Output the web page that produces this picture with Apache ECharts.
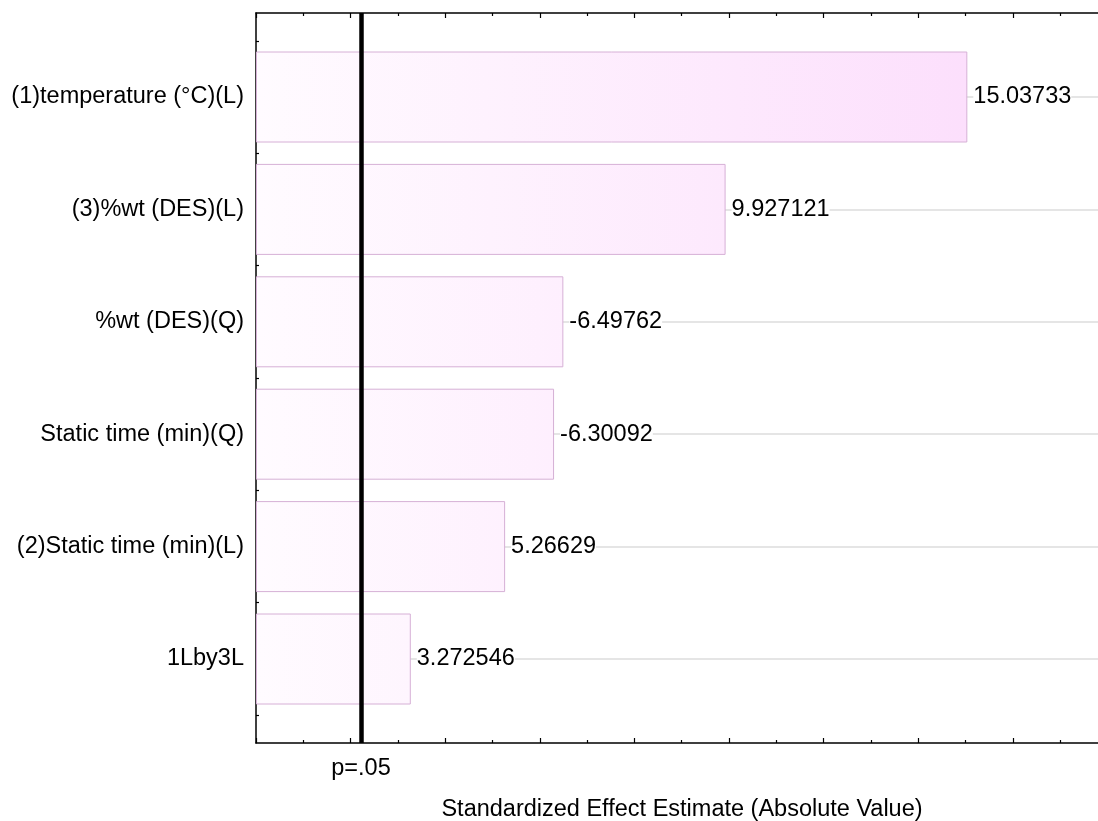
<!DOCTYPE html>
<html><head><meta charset="utf-8">
<script src="https://cdn.jsdelivr.net/npm/echarts@6/dist/echarts.min.js"></script>
<style>html,body{margin:0;padding:0;background:#fff}#c{width:1098px;height:821px}</style>
</head><body><div id="c"></div>
<script>
const categories = ["(1)temperature (°C)(L)", "(3)%wt (DES)(L)", "%wt (DES)(Q)", "Static time (min)(Q)", "(2)Static time (min)(L)", "1Lby3L"];
const effects = [15.03733, 9.927121, -6.49762, -6.30092, 5.26629, 3.272546];
const effectLabels = ["15.03733", "9.927121", "-6.49762", "-6.30092", "5.26629", "3.272546"];
const pCritical = 2.22;
const pLabel = "p=.05";
const xMin = 0, xMax = 17.8, xMajorStep = 2, xMinorStep = 1;
const yFrameMin = 0.25, yFrameMax = 6.75, yMinorStep = 0.25, yMajorStep = 1;
const axisName = "Standardized Effect Estimate (Absolute Value)";

const FONT = 'Arial, "Liberation Sans", sans-serif';
const FS = 23.5;

function steps(a, b, s, skipEvery) {
  const out = [];
  for (let i = 0; a + i * s <= b + 1e-9; i++) {
    if (skipEvery && i % skipEvery === 0) continue;
    out.push(+(a + i * s).toFixed(6));
  }
  return out;
}
const xMajorTicks = steps(xMin, xMax, xMajorStep);
const xMinorTicks = steps(xMin, xMax, xMinorStep, 2);
const yMinorTicks = steps(0, yFrameMax, yMinorStep, 4).filter(v => v > yFrameMin && v < yFrameMax);
const yMajorTicks = steps(1, yFrameMax, yMajorStep);

function mix(a, b, t) {
  const pa = [1,3,5].map(i => parseInt(a.slice(i, i + 2), 16));
  const pb = [1,3,5].map(i => parseInt(b.slice(i, i + 2), 16));
  return 'rgb(' + pa.map((v, i) => Math.round(v + (pb[i] - v) * t)).join(',') + ')';
}
const cStart = '#fffbff', cEnd = '#fcdafc';

const chart = echarts.init(document.getElementById('c'), null, {renderer: 'canvas'});

const barData = effects.map(v => {
  const t = Math.abs(v) / xMax;
  return {
    value: Math.abs(v),
    itemStyle: {
      color: new echarts.graphic.LinearGradient(0, 0, 1, 0, [
        {offset: 0, color: cStart},
        {offset: 1, color: mix(cStart, cEnd, t)}
      ])
    }
  };
});

function xAx(pos, major, extra) {
  return Object.assign({
    type: 'value', min: xMin, max: xMax, gridIndex: 0, position: pos,
    axisLine: {show: major, onZero: false, lineStyle: {color: '#000', width: 1.5}},
    axisTick: {show: true, inside: true, length: major ? 5 : 3,
               customValues: major ? xMajorTicks : xMinorTicks,
               lineStyle: {color: '#000', width: 1.2}},
    axisLabel: {show: false},
    splitLine: {show: false}
  }, extra || {});
}
function yAx(major) {
  return {
    type: 'value', gridIndex: 0, min: yFrameMin, max: yFrameMax, position: 'left',
    axisLine: {show: !major, onZero: false, lineStyle: {color: '#000', width: 1.5}},
    axisTick: {show: true, inside: true, length: major ? 5 : 3,
               customValues: major ? yMajorTicks : yMinorTicks,
               lineStyle: {color: '#000', width: 1.2}},
    axisLabel: {show: false},
    splitLine: {show: false}
  };
}

chart.setOption({
  animation: false,
  backgroundColor: '#fff',
  textStyle: {fontFamily: FONT},
  grid: [
    {left: 256, right: 0, top: 13, bottom: 78, containLabel: false, outerBoundsMode: 'none'},
    {left: 256, right: 0, top: 97, bottom: 162, containLabel: false, outerBoundsMode: 'none'}
  ],
  xAxis: [
    xAx('bottom', true, {
      name: axisName, nameLocation: 'middle', nameGap: 55,
      nameTextStyle: {fontSize: FS, color: '#000', fontFamily: FONT, padding: [0, 0, 0, 10]}
    }),
    xAx('top', true),
    xAx('bottom', false),
    xAx('top', false),
    {type: 'value', gridIndex: 1, min: xMin, max: xMax, show: false, splitLine: {show: false}}
  ],
  yAxis: [
    yAx(false),
    yAx(true),
    {
      type: 'category', gridIndex: 1, data: categories, inverse: true, boundaryGap: false,
      axisLine: {show: false},
      axisTick: {show: false},
      axisLabel: {show: true, fontSize: FS, color: '#000', margin: 12, fontFamily: FONT},
      splitLine: {show: true, lineStyle: {color: '#dcdcdc', width: 1.5}}
    }
  ],
  series: [
    {
      type: 'bar', xAxisIndex: 4, yAxisIndex: 2,
      data: barData, barWidth: 91, clip: false,
      itemStyle: {borderColor: '#d6b0d6', borderWidth: 1},
      label: {
        show: true, position: 'right', distance: 6,
        formatter: p => effectLabels[p.dataIndex],
        color: '#000', fontSize: FS, fontFamily: FONT,
        backgroundColor: '#fff'
      },
      z: 2
    },
    {
      type: 'line', xAxisIndex: 0, yAxisIndex: 0, data: [],
      markLine: {
        silent: true, symbol: ['none', 'none'], animation: false,
        lineStyle: {color: '#000', width: 4.5, type: 'solid'},
        label: {show: true, position: 'start', distance: 14, formatter: pLabel,
                color: '#000', fontSize: FS, fontFamily: FONT},
        data: [{xAxis: pCritical}]
      },
      z: 5
    }
  ]
});
</script>
</body></html>
